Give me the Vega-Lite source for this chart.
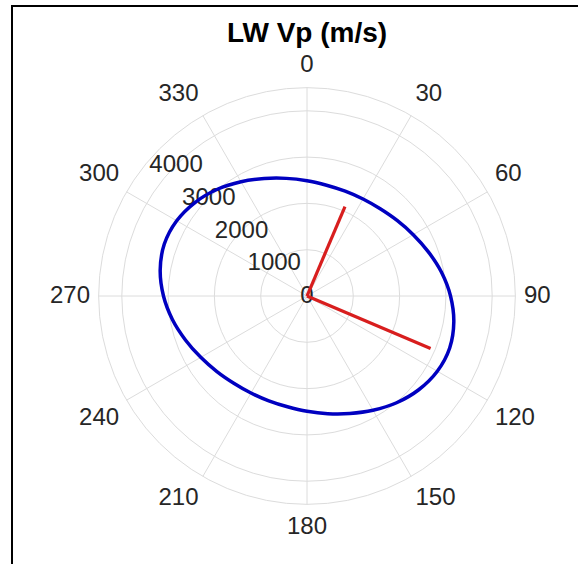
{
  "$schema": "https://vega.github.io/schema/vega-lite/v6.json",
  "width": 570,
  "height": 562,
  "autosize": "none",
  "padding": {"left": 12, "top": 6, "right": -4, "bottom": -4},
  "background": "white",
  "config": {
    "view": {"stroke": "#000000", "strokeWidth": 2},
    "font": "Liberation Sans"
  },
  "datasets": {
    "heading": [{"title": "LW Vp (m/s)"}],
    "rings": [{"r": 1000}, {"r": 2000}, {"r": 3000}, {"r": 4000}, {"r": 4500}],
    "spokes": [
      {"theta": 0, "label": "0"}, {"theta": 30, "label": "30"}, {"theta": 60, "label": "60"},
      {"theta": 90, "label": "90"}, {"theta": 120, "label": "120"}, {"theta": 150, "label": "150"},
      {"theta": 180, "label": "180"}, {"theta": 210, "label": "210"}, {"theta": 240, "label": "240"},
      {"theta": 270, "label": "270"}, {"theta": 300, "label": "300"}, {"theta": 330, "label": "330"}
    ],
    "rticks": [{"r": 0}, {"r": 1000}, {"r": 2000}, {"r": 3000}, {"r": 4000}],
    "vp": [
      {"theta": 0, "r": 2490}, {"theta": 10, "r": 2430}, {"theta": 20, "r": 2410},
      {"theta": 30, "r": 2420}, {"theta": 40, "r": 2460}, {"theta": 50, "r": 2540},
      {"theta": 60, "r": 2650}, {"theta": 70, "r": 2790}, {"theta": 80, "r": 2950},
      {"theta": 90, "r": 3100}, {"theta": 100, "r": 3220}, {"theta": 110, "r": 3280},
      {"theta": 120, "r": 3250}, {"theta": 130, "r": 3150}, {"theta": 140, "r": 3010},
      {"theta": 150, "r": 2850}, {"theta": 160, "r": 2700}, {"theta": 170, "r": 2580},
      {"theta": 180, "r": 2490}, {"theta": 190, "r": 2430}, {"theta": 200, "r": 2410},
      {"theta": 210, "r": 2420}, {"theta": 220, "r": 2460}, {"theta": 230, "r": 2540},
      {"theta": 240, "r": 2650}, {"theta": 250, "r": 2790}, {"theta": 260, "r": 2950},
      {"theta": 270, "r": 3100}, {"theta": 280, "r": 3220}, {"theta": 290, "r": 3280},
      {"theta": 300, "r": 3250}, {"theta": 310, "r": 3150}, {"theta": 320, "r": 3010},
      {"theta": 330, "r": 2850}, {"theta": 340, "r": 2700}, {"theta": 350, "r": 2580}
    ],
    "axes": [{"theta": 23, "r": 2100}, {"theta": 113, "r": 2900}]
  },
  "encoding": {
    "x": {"field": "px", "type": "quantitative", "scale": {"domain": [-6372, 5940], "nice": false, "zero": false}, "axis": null},
    "y": {"field": "py", "type": "quantitative", "scale": {"domain": [-5875, 6264], "nice": false, "zero": false}, "axis": null}
  },
  "layer": [
    {
      "data": {"name": "rings"},
      "transform": [
        {"calculate": "0", "as": "px"},
        {"calculate": "0", "as": "py"}
      ],
      "mark": {"type": "point", "shape": "circle", "filled": false, "color": "#dcdcdc", "strokeWidth": 1, "opacity": 1},
      "encoding": {
        "size": {"field": "r", "type": "quantitative", "scale": {"type": "pow", "exponent": 2, "domain": [0, 4500], "range": [0, 173640], "zero": true}, "legend": null}
      }
    },
    {
      "data": {"name": "spokes"},
      "transform": [
        {"calculate": "0", "as": "px"},
        {"calculate": "0", "as": "py"},
        {"calculate": "4500 * sin(datum.theta * PI / 180)", "as": "ex"},
        {"calculate": "4500 * cos(datum.theta * PI / 180)", "as": "ey"}
      ],
      "mark": {"type": "rule", "color": "#dcdcdc", "strokeWidth": 1},
      "encoding": {
        "x2": {"field": "ex"},
        "y2": {"field": "ey"}
      }
    },
    {
      "data": {"name": "rticks"},
      "transform": [
        {"calculate": "datum.r * sin(-45 * PI / 180)", "as": "px"},
        {"calculate": "datum.r * cos(-45 * PI / 180)", "as": "py"}
      ],
      "mark": {"type": "text", "fontSize": 24, "color": "#262626", "align": "center", "baseline": "middle"},
      "encoding": {
        "text": {"field": "r", "type": "quantitative", "format": "d"}
      }
    },
    {
      "data": {"name": "vp"},
      "transform": [
        {"calculate": "datum.r * sin(datum.theta * PI / 180)", "as": "px"},
        {"calculate": "datum.r * cos(datum.theta * PI / 180)", "as": "py"}
      ],
      "mark": {"type": "line", "color": "#0000c0", "strokeWidth": 3.5, "interpolate": "cardinal-closed"},
      "encoding": {
        "order": {"field": "theta", "type": "quantitative"}
      }
    },
    {
      "data": {"name": "axes"},
      "transform": [
        {"calculate": "0", "as": "px"},
        {"calculate": "0", "as": "py"},
        {"calculate": "datum.r * sin(datum.theta * PI / 180)", "as": "ex"},
        {"calculate": "datum.r * cos(datum.theta * PI / 180)", "as": "ey"}
      ],
      "mark": {"type": "rule", "color": "#d81e1e", "strokeWidth": 3.2},
      "encoding": {
        "x2": {"field": "ex"},
        "y2": {"field": "ey"}
      }
    },
    {
      "data": {"name": "spokes"},
      "transform": [
        {"calculate": "sin(datum.theta * PI / 180)", "as": "s"},
        {"calculate": "cos(datum.theta * PI / 180)", "as": "c"},
        {"calculate": "abs(datum.s) < 0.01 ? 0 : (datum.s > 0 ? 1 : -1)", "as": "sx"},
        {"calculate": "abs(datum.c) < 0.01 ? 0 : (datum.c > 0 ? 1 : -1)", "as": "sy"},
        {"calculate": "(217 * datum.s + datum.sx * length(datum.label) * 6.67) / 0.0463", "as": "px"},
        {"calculate": "(217 * datum.c + datum.sy * 13.8) / 0.0463", "as": "py"}
      ],
      "mark": {"type": "text", "fontSize": 24, "color": "#262626", "align": "center", "baseline": "middle"},
      "encoding": {
        "text": {"field": "label"}
      }
    },
    {
      "data": {"name": "heading"},
      "transform": [
        {"calculate": "0", "as": "px"},
        {"calculate": "5486", "as": "py"}
      ],
      "mark": {"type": "text", "fontSize": 28, "fontWeight": "bold", "color": "#000000", "align": "center", "baseline": "alphabetic"},
      "encoding": {
        "text": {"field": "title"}
      }
    }
  ]
}
